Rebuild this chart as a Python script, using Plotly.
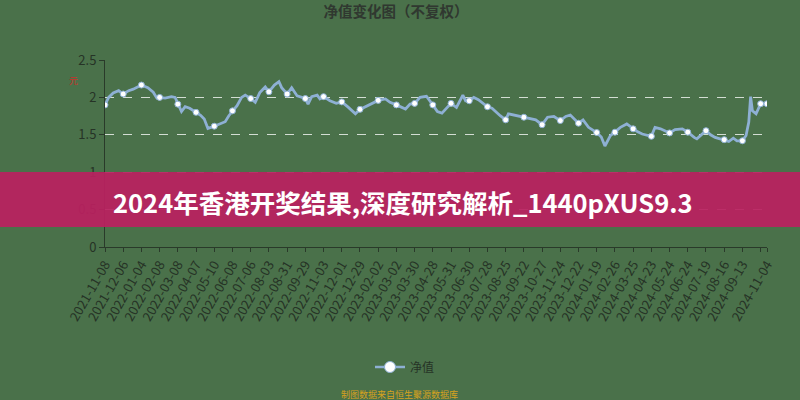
import plotly.graph_objects as go

# trading-day index of each sampled point and net value
idx = [0, 4, 9, 15, 20, 26, 31, 35, 40, 47, 53, 57, 60, 66, 73, 77, 80, 84, 88, 93,
       100, 105, 109, 113, 120, 126, 132, 136, 140, 145, 150, 154, 160, 165, 170, 176,
       180, 186, 191, 194, 200, 205, 211, 215, 220, 223, 227, 233, 236, 240, 247, 254,
       260, 267, 275, 280, 290, 295, 300, 308, 313, 320, 330, 335, 340, 346, 353, 360,
       365, 370, 380, 386, 393, 396, 400, 405, 410, 420, 425, 434, 440, 443, 449, 460,
       467, 473, 480, 486, 493, 500, 506, 511, 520, 525, 531, 540, 545, 549, 555, 560,
       566, 573, 580, 585, 590, 600, 604, 610, 620, 626, 634, 640, 647, 650, 660, 665,
       670, 680, 685, 690, 694, 700, 704, 707, 709, 711, 715, 720, 724, 727]
nav = [1.90, 2.00, 2.06, 2.09, 2.045, 2.09, 2.11, 2.13, 2.165, 2.13, 2.07, 1.99, 2.00, 1.99,
       2.01, 2.00, 1.91, 1.81, 1.875, 1.855, 1.80, 1.76, 1.71, 1.585, 1.615, 1.645, 1.675,
       1.755, 1.82, 1.89, 2.00, 2.03, 1.985, 1.935, 2.065, 2.14, 2.075, 2.165, 2.21, 2.13,
       2.045, 2.13, 2.02, 2.00, 1.985, 1.91, 2.01, 2.03, 1.98, 2.01, 1.955, 1.92, 1.94, 1.87,
       1.78, 1.84, 1.895, 1.925, 1.96, 1.98, 1.935, 1.90, 1.845, 1.91, 1.92, 2.00, 2.015,
       1.90, 1.81, 1.79, 1.92, 1.865, 2.03, 1.955, 1.955, 2.00, 1.97, 1.875, 1.855, 1.755,
       1.70, 1.78, 1.765, 1.735, 1.71, 1.70, 1.635, 1.735, 1.745, 1.69, 1.745, 1.765, 1.655,
       1.70, 1.60, 1.53, 1.47, 1.35, 1.49, 1.535, 1.60, 1.645, 1.58, 1.54, 1.51, 1.48, 1.60,
       1.58, 1.525, 1.57, 1.58, 1.535, 1.465, 1.445, 1.555, 1.50, 1.465, 1.435, 1.41, 1.455,
       1.42, 1.42, 1.49, 1.67, 2.01, 1.82, 1.78, 1.915, 1.91, 1.915]

tick_idx = [0, 20, 40, 60, 80, 100, 120, 140, 160, 180, 200, 220, 240, 260, 280, 300, 320,
            340, 360, 380, 400, 420, 440, 460, 480, 500, 520, 540, 560, 580, 600, 620, 640,
            660, 680, 700, 720, 727]
tick_text = ["2021-11-08", "2021-12-06", "2022-01-04", "2022-02-08", "2022-03-08",
             "2022-04-07", "2022-05-10", "2022-06-08", "2022-07-06", "2022-08-03",
             "2022-08-31", "2022-09-29", "2022-11-03", "2022-12-01", "2022-12-29",
             "2023-02-02", "2023-03-02", "2023-03-30", "2023-04-28", "2023-05-31",
             "2023-06-30", "2023-07-28", "2023-08-25", "2023-09-22", "2023-10-27",
             "2023-11-24", "2023-12-22", "2024-01-19", "2024-02-26", "2024-03-25",
             "2024-04-23", "2024-05-24", "2024-06-24", "2024-07-19", "2024-08-16",
             "2024-09-13", "", "2024-11-04"]

y_ticks = [0, 0.5, 1, 1.5, 2, 2.5]
series_name = "净值"
title_text = "净值变化图（不复权）"
banner_text = "2024年香港开奖结果,深度研究解析_1440pXUS9.3"
footer_text = "制图数据来自恒生聚源数据库"
unit_text = "元"

BG = "#4a714a"
LINE = "#8eb0d4"
TXT = "#263326"
FONT = "Noto Sans CJK SC, Noto Sans, sans-serif"

mk_x = [i for i in idx if i in tick_idx]
mk_y = [v for i, v in zip(idx, nav) if i in tick_idx]

fig = go.Figure()
fig.add_trace(go.Scatter(x=idx, y=nav, mode="lines", line=dict(color=LINE, width=2.8),
                         showlegend=False, hoverinfo="skip"))
fig.add_trace(go.Scatter(x=mk_x, y=mk_y, mode="markers", showlegend=False,
                         marker=dict(color="white", size=6, line=dict(color=LINE, width=1))))
fig.add_trace(go.Scatter(x=[None], y=[None], mode="lines+markers", name=series_name,
                         line=dict(color=LINE, width=2.5),
                         marker=dict(color="white", size=11, line=dict(color=LINE, width=1))))

L, R, T, B = 105, 33, 60, 153
W, H = 800, 400
pw, ph = W - L - R, H - T - B

def px(xp):
    return (xp - L) / pw

def py(yp):
    return (H - B - yp) / ph

fig.update_layout(
    width=W, height=H,
    margin=dict(l=L, r=R, t=T, b=B),
    paper_bgcolor=BG, plot_bgcolor=BG,
    font=dict(family=FONT, color=TXT, size=11),
    title=dict(text="<b>" + title_text + "</b>", x=0.495, xanchor="center",
               y=1 - 12 / H, yanchor="middle", yref="container",
               font=dict(size=14.5, color="#303830", family=FONT)),
    showlegend=True,
    legend=dict(orientation="h", x=px(405), xanchor="center", y=py(367), yanchor="middle",
                font=dict(size=12, color=TXT), bgcolor="rgba(0,0,0,0)"),
    xaxis=dict(range=[0, 727], tickmode="array", tickvals=tick_idx, ticktext=tick_text,
               tickangle=-60, showgrid=False, zeroline=False, showline=True,
               linecolor="#2a3a2a", linewidth=1, ticks="outside", ticklen=4,
               tickcolor="#2a3a2a", tickfont=dict(size=13, color=TXT)),
    yaxis=dict(range=[0, 2.5], tickvals=y_ticks, ticktext=["0", "0.5", "1", "1.5", "2", "2.5"],
               showgrid=True, gridcolor="rgba(235,240,235,0.85)", griddash="dash", gridwidth=1,
               zeroline=False, showline=True, linecolor="#2a3a2a", linewidth=1,
               ticks="outside", ticklen=5, tickcolor="#2a3a2a",
               tickfont=dict(size=13, color=TXT)),
    shapes=[dict(type="rect", xref="paper", yref="paper", x0=px(0), x1=px(W),
                 y0=py(227), y1=py(172), fillcolor="rgba(186,32,96,0.93)",
                 line=dict(width=0), layer="above")],
    annotations=[
        dict(text="<b>" + banner_text + "</b>", xref="paper", yref="paper", x=px(111),
             y=py(201), xanchor="left", yanchor="middle", showarrow=False,
             font=dict(size=25.5, color="white", family=FONT)),
        dict(text=footer_text, xref="paper", yref="paper", x=px(399), y=py(394),
             xanchor="center", yanchor="middle", showarrow=False,
             font=dict(size=9, color="#d6a21e", family=FONT)),
        dict(text=unit_text, xref="paper", yref="paper", x=px(73), y=py(80),
             xanchor="center", yanchor="middle", showarrow=False,
             font=dict(size=9, color="#c8322a", family=FONT)),
    ],
)

fig.write_html("out.html", config={"displayModeBar": False},
               post_script="document.body.style.margin='0px';document.body.style.padding='0px';")
